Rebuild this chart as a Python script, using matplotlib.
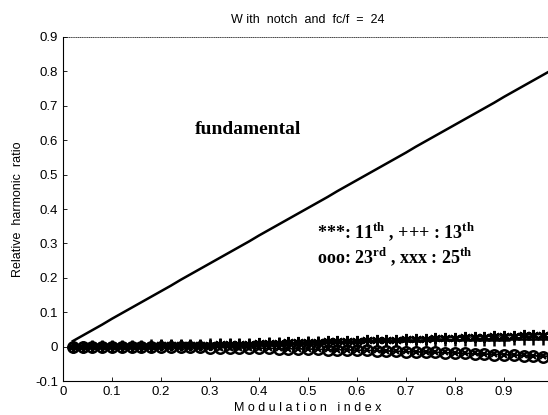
import matplotlib.pyplot as plt

# modulation index values where the harmonics were computed
mod_index = [0.02, 0.04, 0.06, 0.08, 0.10, 0.12, 0.14, 0.16, 0.18, 0.20,
             0.22, 0.24, 0.26, 0.28, 0.30, 0.32, 0.34, 0.36, 0.38, 0.40,
             0.42, 0.44, 0.46, 0.48, 0.50, 0.52, 0.54, 0.56, 0.58, 0.60,
             0.62, 0.64, 0.66, 0.68, 0.70, 0.72, 0.74, 0.76, 0.78, 0.80,
             0.82, 0.84, 0.86, 0.88, 0.90, 0.92, 0.94, 0.96, 0.98, 1.00]

fundamental = [0.016, 0.032, 0.048, 0.064, 0.081, 0.097, 0.113, 0.129, 0.145, 0.161,
               0.177, 0.194, 0.210, 0.226, 0.242, 0.258, 0.274, 0.290, 0.306, 0.323,
               0.339, 0.355, 0.371, 0.387, 0.403, 0.419, 0.435, 0.452, 0.468, 0.484,
               0.500, 0.516, 0.532, 0.548, 0.564, 0.581, 0.597, 0.613, 0.629, 0.645,
               0.661, 0.677, 0.693, 0.709, 0.726, 0.742, 0.758, 0.774, 0.790, 0.806]

h11 = [0.000, 0.000, 0.001, 0.001, 0.001, 0.002, 0.002, 0.003, 0.003, 0.004,
       0.004, 0.005, 0.005, 0.006, 0.006, 0.007, 0.008, 0.008, 0.009, 0.010,
       0.010, 0.011, 0.012, 0.012, 0.013, 0.014, 0.015, 0.015, 0.016, 0.017,
       0.018, 0.019, 0.019, 0.020, 0.021, 0.022, 0.023, 0.024, 0.025, 0.026,
       0.027, 0.028, 0.029, 0.030, 0.031, 0.032, 0.033, 0.034, 0.035, 0.036]

h13 = [0.000, 0.000, 0.001, 0.001, 0.002, 0.002, 0.003, 0.003, 0.004, 0.004,
       0.005, 0.005, 0.006, 0.006, 0.007, 0.007, 0.008, 0.008, 0.009, 0.009,
       0.010, 0.010, 0.011, 0.011, 0.012, 0.012, 0.013, 0.013, 0.014, 0.014,
       0.015, 0.015, 0.016, 0.016, 0.017, 0.017, 0.018, 0.018, 0.018, 0.019,
       0.019, 0.019, 0.020, 0.020, 0.020, 0.021, 0.021, 0.021, 0.022, 0.022]

h23 = [0.000, 0.000, 0.000, 0.000, 0.000, 0.000, -0.001, -0.001, -0.001, -0.001,
       -0.001, -0.002, -0.002, -0.002, -0.003, -0.003, -0.003, -0.004, -0.004, -0.005,
       -0.005, -0.006, -0.006, -0.007, -0.007, -0.008, -0.009, -0.009, -0.010, -0.011,
       -0.011, -0.012, -0.013, -0.014, -0.015, -0.016, -0.016, -0.017, -0.018, -0.019,
       -0.020, -0.021, -0.022, -0.023, -0.024, -0.025, -0.026, -0.027, -0.029, -0.030]

h25 = [0.000, 0.000, 0.000, 0.000, 0.000, 0.000, -0.001, -0.001, -0.001, -0.001,
       -0.001, -0.002, -0.002, -0.002, -0.002, -0.003, -0.003, -0.004, -0.004, -0.004,
       -0.005, -0.005, -0.006, -0.006, -0.007, -0.008, -0.008, -0.009, -0.009, -0.010,
       -0.011, -0.011, -0.012, -0.013, -0.014, -0.015, -0.015, -0.016, -0.017, -0.018,
       -0.019, -0.020, -0.021, -0.022, -0.023, -0.024, -0.025, -0.026, -0.027, -0.028]

x_ticks = [0, 0.1, 0.2, 0.3, 0.4, 0.5, 0.6, 0.7, 0.8, 0.9]
x_tick_labels = ['0', '0.1', '0.2', '0.3', '0.4', '0.5', '0.6', '0.7', '0.8', '0.9']
y_ticks = [-0.1, 0, 0.1, 0.2, 0.3, 0.4, 0.5, 0.6, 0.7, 0.8, 0.9]
y_tick_labels = ['-0.1', '0', '0.1', '0.2', '0.3', '0.4', '0.5', '0.6', '0.7', '0.8', '0.9']

plt.rcParams['font.family'] = ['Liberation Sans', 'DejaVu Sans']
plt.rcParams['mathtext.fontset'] = 'custom'
plt.rcParams['mathtext.rm'] = 'Liberation Serif:bold'

fig = plt.figure(figsize=(5.48, 4.15), dpi=100)
ax = fig.add_axes([63 / 548, 34 / 415, 490 / 548, 344 / 415])

ax.plot(mod_index, fundamental, color='black', lw=1.8)
ax.plot(mod_index, h11, color='black', lw=1.0, marker=(6, 2, 0), ms=8, mew=1.8)
ax.plot(mod_index, h13, color='black', lw=1.2, marker='+', ms=8, mew=1.8)
ax.plot(mod_index, h23, color='black', lw=1.0, marker='o', ms=7.5, mew=1.8,
        mfc='none')
ax.plot(mod_index, h25, color='black', lw=1.0, marker='x', ms=5, mew=1.6)

ax.set_xlim(0, 1.0)
ax.set_ylim(-0.1, 0.9)
ax.set_xticks(x_ticks)
ax.set_xticklabels(x_tick_labels)
ax.set_yticks(y_ticks)
ax.set_yticklabels(y_tick_labels)
ax.tick_params(direction='in', length=3, labelsize=9.5, width=0.6)
ax.spines['right'].set_visible(False)
ax.spines['top'].set_linewidth(0.5)
ax.spines['top'].set_linestyle(':')
ax.spines['left'].set_linewidth(0.8)
ax.spines['bottom'].set_linewidth(0.8)

ax.set_title('W ith  notch  and  fc/f  =  24', fontsize=9, pad=10)
ax.set_xlabel('M o d u l a t i o n   i n d e x', fontsize=9, labelpad=3)
ax.set_ylabel('Relative  harmonic  ratio', fontsize=9, labelpad=8)

ax.text(0.27, 0.63, 'fundamental', family='Liberation Serif',
        fontweight='bold', fontsize=14, va='center')
ax.text(0.518, 0.335, r'***: 11$^{\rm th}$ , +++ : 13$^{\rm th}$',
        family='Liberation Serif', fontweight='bold', fontsize=13, va='center')
ax.text(0.518, 0.262, r'ooo: 23$^{\rm rd}$ , xxx : 25$^{\rm th}$',
        family='Liberation Serif', fontweight='bold', fontsize=13, va='center')

fig.savefig('out.png', dpi=100)
